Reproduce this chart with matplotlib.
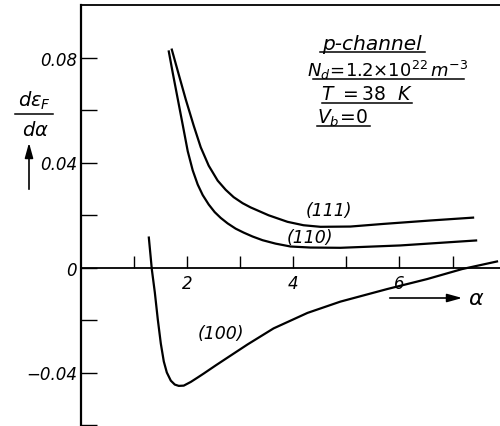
import matplotlib
matplotlib.use("Agg")
import numpy as np
import matplotlib.pyplot as plt

plt.rcParams['mathtext.fontset'] = 'dejavusans'
plt.rcParams['mathtext.default'] = 'it'

# curves: alpha vs d(eps_F)/d(alpha)
a_111 = [1.711, 1.842, 1.974, 2.124, 2.256, 2.406, 2.575, 2.726, 2.876, 3.045,
         3.195, 3.534, 3.891, 4.192, 4.511, 5.075, 5.695, 6.579, 7.387]
e_111 = [0.0830, 0.0735, 0.0640, 0.0540, 0.0458, 0.0388, 0.0331, 0.0296, 0.0268, 0.0245,
         0.0229, 0.0199, 0.0174, 0.0161, 0.0155, 0.0156, 0.0166, 0.0179, 0.0190]

a_110 = [1.654, 1.729, 1.823, 1.917, 2.011, 2.105, 2.199, 2.293, 2.406, 2.519, 2.632,
         2.763, 2.914, 3.064, 3.233, 3.421, 3.665, 3.947, 4.323, 4.887, 6.015, 7.444]
e_110 = [0.0823, 0.0741, 0.0642, 0.0543, 0.0443, 0.0370, 0.0316, 0.0276, 0.0240, 0.0211, 0.0189,
         0.0168, 0.0148, 0.0133, 0.0118, 0.0104, 0.0091, 0.0080, 0.0076, 0.0075, 0.0084, 0.0103]

a_100 = [1.278, 1.335, 1.391, 1.447, 1.504, 1.560, 1.617, 1.692, 1.767, 1.842, 1.936,
         2.068, 2.199, 2.312, 2.538, 2.763, 3.139, 3.628, 4.267, 4.887, 5.771, 6.523,
         7.180, 7.838]
e_100 = [0.0114, -0.0008, -0.0095, -0.0198, -0.0290, -0.0358, -0.0400, -0.0431, -0.0446,
         -0.0451, -0.0450, -0.0436, -0.0419, -0.0404, -0.0373, -0.0343, -0.0293, -0.0232,
         -0.0173, -0.0130, -0.0082, -0.0044, -0.0006, 0.0023]

xt_major = [2, 4, 6, 8]
xt_minor = [1, 3, 5, 7]
yt_major = [-0.04, 0, 0.04, 0.08]
yt_minor = [-0.06, -0.02, 0.02, 0.06]
yt_labels = ['\u22120.04', '0', '0.04', '0.08']

curve_labels = [('(111)', 4.67, 0.0220), ('(110)', 4.31, 0.0118), ('(100)', 2.63, -0.0248)]

W, H = 500, 427
fig = plt.figure(figsize=(W / 100, H / 100), dpi=100)
ax = fig.add_axes([81 / W, 1 / H, (505.6 - 81) / W, 420 / H])

lw = 1.6
for a, e in [(a_111, e_111), (a_110, e_110), (a_100, e_100)]:
    ax.plot(a, e, color='black', lw=lw, solid_joinstyle='round')

ax.set_xlim(0, 8)
ax.set_ylim(-0.06, 0.1)

ax.spines['right'].set_visible(False)
ax.spines['bottom'].set_position(('data', 0))
ax.spines['left'].set_linewidth(1.6)
ax.spines['top'].set_linewidth(1.3)
ax.spines['bottom'].set_linewidth(1.3)

ax.set_xticks(xt_major)
ax.set_xticks(xt_minor, minor=True)
ax.set_xticklabels([str(v) for v in xt_major])
ax.set_yticks(yt_major)
ax.set_yticks(yt_minor, minor=True)
ax.set_yticklabels(yt_labels)

ax.tick_params(axis='x', which='both', direction='in', length=8.5, width=1.0, pad=5)
ax.tick_params(axis='y', which='both', direction='in', length=11.5, width=1.0, pad=3)
for lab in ax.get_xticklabels() + ax.get_yticklabels():
    lab.set_fontstyle('italic')
    lab.set_fontsize(12)

for txt, x, y in curve_labels:
    ax.text(x, y, txt, ha='center', va='center', fontsize=12.5, style='italic')

# parameter block, top right, each line underlined
info = [('p-channel', 372, 44, 14.5, 320, 425, 53),
        (r'$N_d\!=\!1.2{\times}10^{22}\,m^{-3}$', 388, 70, 13, 313, 464, 80),
        (r'$T\ =38\ \ K$', 367, 94, 13.5, 322, 412, 104),
        (r'$V_b\!=\!0$', 343, 118, 13.5, 317, 370, 127)]
for txt, cx, cy, fs, u0, u1, uy in info:
    fig.text(cx / W, 1 - cy / H, txt, ha='center', va='center', fontsize=fs, style='italic')
    fig.add_artist(plt.Line2D([u0 / W, u1 / W], [1 - uy / H, 1 - uy / H],
                              color='black', lw=1.1, transform=fig.transFigure))

# y-axis quantity written as a fraction with an upward arrow
fig.text(34 / W, 1 - 101 / H, r'$d\varepsilon_F$', ha='center', va='center', fontsize=14)
fig.add_artist(plt.Line2D([15 / W, 53 / W], [1 - 115 / H, 1 - 115 / H],
                          color='black', lw=1.1, transform=fig.transFigure))
fig.text(35 / W, 1 - 130 / H, r'$d\alpha$', ha='center', va='center', fontsize=14)
ax.annotate('', xy=(29, H - 141), xytext=(29, H - 193), xycoords='figure pixels',
            textcoords='figure pixels',
            arrowprops=dict(arrowstyle='-|>,head_length=0.9,head_width=0.25',
                            color='black', lw=1.2))

# x-axis quantity with a rightward arrow
ax.annotate('', xy=(465, H - 299), xytext=(387, H - 299), xycoords='figure pixels',
            textcoords='figure pixels',
            arrowprops=dict(arrowstyle='-|>,head_length=0.9,head_width=0.25',
                            color='black', lw=1.2))
fig.text(476 / W, 1 - 299 / H, r'$\alpha$', ha='center', va='center', fontsize=16)

fig.savefig('out.png', dpi=100)
